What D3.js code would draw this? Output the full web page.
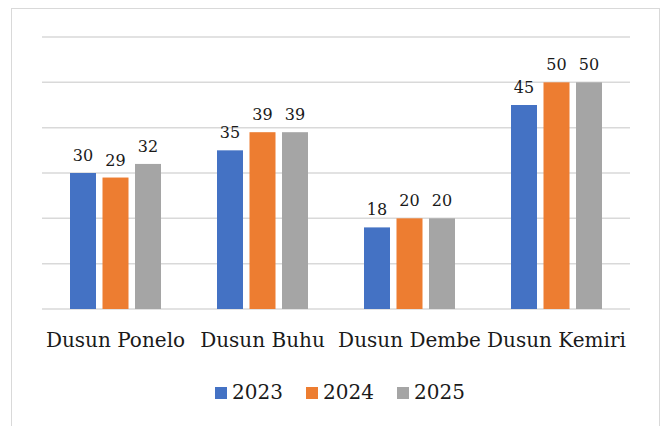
<!DOCTYPE html>
<html lang="en">
<head>
<meta charset="UTF-8">
<title>Dusun chart</title>
<script src="https://cdn.jsdelivr.net/npm/d3@7"></script>
<style>
  body {margin:0; background:#fff;}
  text {font-family:"DejaVu Serif", serif; fill:#1a1a1a;}
</style>
</head>
<body>
<div id="chart"></div>
<script>
// data
var categories = ["Dusun Ponelo","Dusun Buhu","Dusun Dembe","Dusun Kemiri"];
var years = ["2023","2024","2025"];
var v2023 = [30,35,18,45];
var v2024 = [29,39,20,50];
var v2025 = [32,39,20,50];
var yTicks = [0,10,20,30,40,50,60];
var colors = ["#4472C4","#ED7D31","#A5A5A5"];

var series = [v2023, v2024, v2025];
var W = 663, H = 426;

var svg = d3.select("#chart").append("svg")
    .attr("width", W)
    .attr("height", H);

// outer border
svg.append("rect")
    .attr("x", 11.5).attr("y", 8.5)
    .attr("width", 648).attr("height", 440)
    .attr("fill", "none")
    .attr("stroke", "#D9D9D9")
    .attr("stroke-width", 1);

var x0 = d3.scaleBand().domain(categories).range([42, 630]);
var x1 = d3.scaleBand().domain(years).range([28, 119]).paddingInner(0.2);
var y = d3.scaleLinear().domain([0, 60]).range([309, 37]);

// gridlines
svg.selectAll("line.grid").data(yTicks).enter().append("line")
    .attr("class", "grid")
    .attr("x1", 42).attr("x2", 630)
    .attr("y1", function(d) {return y(d);})
    .attr("y2", function(d) {return y(d);})
    .attr("stroke", "#D9D9D9")
    .attr("stroke-width", 1.5);

var groups = svg.selectAll("g.cat").data(categories).enter().append("g")
    .attr("class", "cat")
    .attr("transform", function(d) {return "translate(" + x0(d) + ",0)";});

groups.each(function(c, ci) {
    var g = d3.select(this);
    years.forEach(function(yr, si) {
        var v = series[si][ci];
        g.append("rect")
            .attr("x", x1(yr))
            .attr("y", y(v))
            .attr("width", x1.bandwidth())
            .attr("height", y(0) - y(v))
            .attr("fill", colors[si]);
        g.append("text")
            .attr("x", x1(yr) + x1.bandwidth() / 2)
            .attr("y", y(v) - 12)
            .attr("text-anchor", "middle")
            .attr("font-size", "16px")
            .text(v);
    });
});

// category labels
svg.selectAll("text.cat").data(categories).enter().append("text")
    .attr("class", "cat")
    .attr("x", function(d) {return x0(d) + x0.bandwidth() / 2;})
    .attr("y", 347)
    .attr("text-anchor", "middle")
    .attr("font-size", "20px")
    .text(function(d) {return d;});

// legend
var legend = svg.selectAll("g.leg").data(years).enter().append("g")
    .attr("class", "leg")
    .attr("transform", function(d, i) {return "translate(" + (215 + 91 * i) + ",0)";});

legend.append("rect")
    .attr("x", 0).attr("y", 387)
    .attr("width", 12).attr("height", 12)
    .attr("fill", function(d, i) {return colors[i];});

legend.append("text")
    .attr("x", 17).attr("y", 399)
    .attr("font-size", "20px")
    .text(function(d) {return d;});
</script>
</body>
</html>
